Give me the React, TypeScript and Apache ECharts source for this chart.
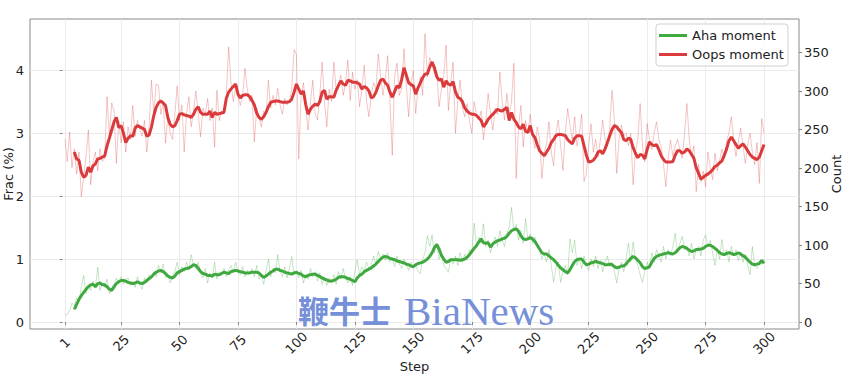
import React, { useEffect, useRef } from "react";
import * as echarts from "echarts";

// Step ticks and axis ticks
const stepTicks = [1, 25, 50, 75, 100, 125, 150, 175, 200, 225, 250, 275, 300];
const fracTicks = [0, 1, 2, 3, 4];
const countTicks = [0, 50, 100, 150, 200, 250, 300, 350];

// Raw per-step values (steps 1..300), Frac (%)
const oopsRaw = [
  2.90, 2.55, 3.02, 2.45, 2.75, 2.35, 2.70, 1.99, 2.30, 2.62,
  3.05, 2.18, 2.55, 2.70, 2.40, 2.75, 2.55, 2.60, 3.58, 2.95,
  3.48, 3.35, 2.52, 3.20, 2.85, 3.18, 2.70, 3.10, 2.90, 3.44,
  2.95, 3.20, 3.05, 2.95, 3.20, 2.70, 3.10, 3.84, 3.30, 3.78,
  3.76, 3.30, 3.50, 2.84, 3.25, 3.00, 2.90, 3.30, 3.75, 3.20,
  3.45, 2.70, 3.30, 3.58, 3.10, 3.35, 3.67, 3.30, 2.94, 3.40,
  3.30, 3.55, 3.20, 3.40, 2.78, 3.68, 3.20, 3.35, 3.30, 3.60,
  4.37, 3.80, 3.50, 3.75, 3.60, 3.44, 3.60, 4.03, 3.70, 3.50,
  3.60, 2.86, 3.40, 3.25, 3.10, 3.35, 3.30, 3.84, 3.40, 3.60,
  3.45, 3.71, 3.45, 3.30, 3.55, 3.45, 3.50, 3.70, 4.33, 4.25,
  2.59, 3.60, 3.80, 3.40, 3.05, 3.50, 3.84, 3.30, 3.21, 3.60,
  4.13, 3.50, 3.10, 3.70, 3.50, 4.13, 3.68, 3.75, 3.92, 3.60,
  3.80, 4.16, 3.52, 3.97, 3.70, 3.85, 3.42, 3.70, 4.08, 3.50,
  3.26, 3.60, 3.80, 3.70, 4.26, 3.90, 3.60, 3.85, 4.23, 3.50,
  2.65, 3.90, 4.11, 3.60, 3.70, 4.34, 3.75, 3.26, 3.80, 3.99,
  3.31, 3.70, 3.90, 3.60, 4.58, 3.89, 4.20, 4.10, 3.95, 3.99,
  3.42, 3.70, 3.90, 4.40, 3.36, 3.80, 4.13, 3.00, 3.50, 3.84,
  3.40, 3.26, 3.47, 3.20, 3.00, 3.50, 3.30, 3.21, 3.35, 2.89,
  3.20, 3.63, 3.30, 3.05, 3.40, 3.30, 3.97, 3.50, 3.21, 3.63,
  3.30, 3.50, 4.11, 2.28, 3.10, 3.44, 2.78, 3.20, 3.00, 3.30,
  2.95, 2.76, 3.10, 2.90, 2.28, 2.70, 2.83, 3.18, 2.70, 2.48,
  3.00, 3.21, 2.80, 2.41, 3.00, 3.39, 3.12, 2.90, 3.26, 2.80,
  3.00, 3.30, 2.23, 2.36, 2.80, 3.15, 2.70, 2.90, 2.62, 2.90,
  3.21, 2.90, 2.79, 3.10, 3.68, 3.20, 2.36, 2.90, 3.13, 2.95,
  3.00, 2.80, 3.00, 2.18, 2.70, 2.90, 3.47, 2.80, 2.54, 3.15,
  2.90, 2.74, 3.00, 3.18, 2.90, 2.79, 2.50, 2.15, 2.60, 2.89,
  2.63, 2.80, 2.90, 2.74, 2.60, 3.00, 3.47, 2.90, 2.63, 2.80,
  2.07, 2.50, 2.23, 2.40, 2.15, 2.70, 2.45, 2.26, 2.68, 2.40,
  2.57, 2.75, 2.60, 2.89, 3.00, 3.26, 2.90, 2.63, 2.85, 3.08,
  2.80, 2.52, 2.80, 3.00, 2.70, 2.50, 2.85, 2.20, 3.23, 3.00,
];

const ahaRaw = [
  0.11, 0.12, 0.18, 0.30, 0.26, 0.38, 0.33, 0.55, 0.74, 0.45,
  0.58, 0.50, 0.65, 0.55, 0.87, 0.50, 0.62, 0.55, 0.68, 0.45,
  0.55, 0.60, 0.70, 0.62, 0.72, 0.60, 0.68, 0.70, 0.58, 0.65,
  0.55, 0.72, 0.60, 0.52, 0.70, 0.62, 0.75, 0.68, 0.80, 0.72,
  0.90, 0.78, 0.92, 0.70, 0.75, 0.62, 0.72, 0.80, 0.95, 0.75,
  0.88, 0.80, 0.95, 0.82, 1.07, 0.90, 0.85, 0.95, 0.78, 0.70,
  0.85, 0.62, 0.78, 0.70, 0.95, 0.68, 0.80, 0.75, 0.85, 0.72,
  0.82, 0.90, 0.78, 0.95, 0.80, 0.75, 0.88, 0.72, 0.82, 0.78,
  0.85, 0.72, 0.90, 0.68, 0.75, 0.60, 0.80, 1.00, 0.72, 0.85,
  0.78, 1.07, 0.80, 0.72, 0.88, 0.70, 0.85, 1.04, 0.75, 0.80,
  0.70, 0.82, 0.62, 0.75, 0.68, 0.85, 0.72, 0.80, 0.65, 0.78,
  0.60, 0.72, 0.58, 0.70, 0.62, 0.75, 0.60, 0.80, 0.68, 0.85,
  0.70, 0.62, 0.72, 0.58, 0.80, 0.99, 0.75, 0.88, 0.80, 0.95,
  0.85, 0.90, 1.05, 0.92, 1.12, 1.00, 1.08, 0.98, 1.10, 0.95,
  1.00, 0.88, 1.05, 0.92, 0.85, 1.00, 0.90, 0.82, 0.95, 0.85,
  0.92, 0.80, 0.77, 1.00, 1.10, 1.37, 1.20, 1.38, 1.10, 1.25,
  1.00, 1.10, 0.90, 0.85, 0.79, 1.00, 0.92, 1.05, 0.90, 1.10,
  0.95, 1.08, 0.98, 1.15, 1.10, 1.57, 1.20, 1.35, 1.25, 1.56,
  1.20, 1.30, 1.10, 1.25, 1.35, 1.20, 1.45, 1.30, 1.20, 1.40,
  1.50, 1.82, 1.45, 1.55, 1.30, 1.45, 1.25, 1.64, 1.30, 1.40,
  1.25, 1.35, 1.20, 1.15, 1.00, 1.10, 0.95, 1.15, 0.90, 0.63,
  0.85, 0.95, 0.63, 0.80, 0.90, 0.75, 1.32, 1.10, 1.30, 0.90,
  1.00, 0.85, 1.05, 0.90, 0.82, 1.00, 0.88, 1.05, 0.85, 0.98,
  0.80, 0.95, 1.05, 0.88, 0.95, 0.80, 0.62, 0.85, 0.95, 0.80,
  1.00, 1.25, 0.95, 1.27, 1.00, 0.90, 0.75, 0.63, 0.80, 0.95,
  0.85, 1.10, 0.95, 1.15, 1.05, 0.95, 1.20, 1.00, 1.15, 1.05,
  1.20, 1.41, 1.10, 1.25, 1.36, 1.15, 1.20, 1.05, 1.25, 1.00,
  1.15, 1.20, 1.05, 1.30, 1.38, 1.20, 1.30, 1.10, 0.90, 1.15,
  1.00, 1.31, 1.05, 1.15, 0.95, 1.20, 1.05, 1.15, 0.98, 1.10,
  0.95, 1.08, 0.90, 0.75, 1.20, 0.90, 0.85, 0.95, 0.92, 1.00,
];

// Smoothed values, steps 5..300
const smoothStart = 5;
const oopsSmooth = [
  2.70, 2.59, 2.57, 2.38, 2.30, 2.33, 2.46, 2.38, 2.48, 2.51,
  2.59, 2.60, 2.62, 2.64, 2.80, 2.92, 3.05, 3.18, 3.25, 3.09,
  3.12, 3.00, 2.85, 2.92, 2.96, 2.95, 3.08, 3.12, 3.10, 3.08,
  3.06, 2.95, 2.97, 3.10, 3.28, 3.41, 3.48, 3.51, 3.48, 3.44,
  3.25, 3.14, 3.10, 3.12, 3.20, 3.30, 3.31, 3.29, 3.28, 3.27,
  3.25, 3.30, 3.38, 3.42, 3.33, 3.30, 3.30, 3.30, 3.35, 3.25,
  3.33, 3.30, 3.31, 3.32, 3.33, 3.55, 3.65, 3.70, 3.74, 3.78,
  3.62, 3.56, 3.60, 3.61, 3.61, 3.58, 3.52, 3.45, 3.32, 3.25,
  3.22, 3.26, 3.33, 3.42, 3.49, 3.50, 3.51, 3.51, 3.50, 3.49,
  3.49, 3.49, 3.50, 3.54, 3.65, 3.78, 3.70, 3.62, 3.67, 3.45,
  3.30, 3.38, 3.43, 3.46, 3.44, 3.50, 3.65, 3.68, 3.54, 3.58,
  3.58, 3.57, 3.68, 3.76, 3.83, 3.78, 3.76, 3.84, 3.83, 3.81,
  3.81, 3.80, 3.78, 3.70, 3.74, 3.72, 3.67, 3.56, 3.58, 3.65,
  3.75, 3.84, 3.86, 3.80, 3.76, 3.65, 3.57, 3.66, 3.75, 3.72,
  3.85, 4.04, 3.92, 3.80, 3.77, 3.75, 3.62, 3.72, 3.80, 3.88,
  3.94, 3.94, 4.05, 4.13, 4.04, 3.90, 3.84, 3.86, 3.73, 3.83,
  3.78, 3.76, 3.82, 3.66, 3.57, 3.55, 3.50, 3.40, 3.35, 3.32,
  3.30, 3.30, 3.28, 3.24, 3.20, 3.10, 3.15, 3.22, 3.26, 3.30,
  3.34, 3.38, 3.36, 3.35, 3.38, 3.41, 3.20, 3.33, 3.22, 3.17,
  3.10, 3.07, 3.14, 3.03, 3.01, 3.12, 2.98, 2.93, 2.82, 2.72,
  2.68, 2.64, 2.70, 2.76, 2.85, 2.90, 2.96, 2.98, 2.98, 2.97,
  2.96, 2.90, 2.86, 2.83, 2.92, 2.96, 2.96, 2.95, 2.80, 2.65,
  2.54, 2.55, 2.57, 2.62, 2.70, 2.72, 2.67, 2.75, 2.85, 2.96,
  3.06, 3.12, 3.10, 3.05, 3.01, 2.90, 2.88, 2.92, 2.90, 2.77,
  2.68, 2.61, 2.66, 2.65, 2.59, 2.74, 2.86, 2.82, 2.80, 2.82,
  2.74, 2.64, 2.58, 2.54, 2.54, 2.54, 2.55, 2.65, 2.72, 2.72,
  2.68, 2.70, 2.75, 2.72, 2.66, 2.60, 2.45, 2.36, 2.27, 2.30,
  2.33, 2.35, 2.38, 2.42, 2.47, 2.49, 2.53, 2.56, 2.65, 2.75,
  2.88, 2.94, 2.88, 2.82, 2.76, 2.80, 2.83, 2.78, 2.72, 2.66,
  2.62, 2.60, 2.58, 2.62, 2.72, 2.82,
];

const ahaSmooth = [
  0.20, 0.28, 0.36, 0.42, 0.47, 0.52, 0.56, 0.59, 0.60, 0.56,
  0.61, 0.62, 0.59, 0.59, 0.56, 0.52, 0.50, 0.56, 0.61, 0.64,
  0.66, 0.66, 0.65, 0.63, 0.62, 0.61, 0.62, 0.64, 0.62, 0.61,
  0.63, 0.66, 0.69, 0.72, 0.76, 0.79, 0.81, 0.82, 0.80, 0.77,
  0.73, 0.71, 0.70, 0.73, 0.78, 0.80, 0.82, 0.84, 0.85, 0.86,
  0.88, 0.91, 0.90, 0.85, 0.80, 0.77, 0.76, 0.74, 0.74, 0.73,
  0.76, 0.75, 0.75, 0.77, 0.79, 0.78, 0.77, 0.80, 0.81, 0.82,
  0.81, 0.80, 0.79, 0.78, 0.78, 0.78, 0.79, 0.79, 0.79, 0.78,
  0.74, 0.71, 0.73, 0.76, 0.79, 0.81, 0.84, 0.84, 0.82, 0.81,
  0.79, 0.78, 0.77, 0.76, 0.78, 0.79, 0.77, 0.76, 0.73, 0.72,
  0.74, 0.75, 0.76, 0.76, 0.74, 0.72, 0.70, 0.68, 0.67, 0.65,
  0.65, 0.66, 0.68, 0.71, 0.72, 0.72, 0.71, 0.69, 0.68, 0.66,
  0.64, 0.70, 0.74, 0.76, 0.80, 0.82, 0.84, 0.86, 0.89, 0.92,
  0.96, 1.00, 1.03, 1.04, 1.03, 1.01, 1.00, 0.99, 0.97, 0.96,
  0.95, 0.94, 0.92, 0.91, 0.89, 0.88, 0.91, 0.93, 0.94, 0.95,
  0.97, 1.00, 1.04, 1.10, 1.18, 1.23, 1.16, 1.06, 1.00, 0.95,
  0.96, 0.99, 0.99, 0.99, 0.99, 0.98, 0.99, 1.00, 1.03, 1.07,
  1.12, 1.17, 1.21, 1.27, 1.32, 1.26, 1.25, 1.26, 1.19, 1.24,
  1.27, 1.29, 1.30, 1.32, 1.33, 1.36, 1.41, 1.45, 1.47, 1.48,
  1.44, 1.37, 1.32, 1.31, 1.32, 1.34, 1.32, 1.28, 1.22, 1.16,
  1.10, 1.08, 1.08, 1.05, 1.02, 0.99, 0.95, 0.90, 0.86, 0.83,
  0.80, 0.78, 0.83, 0.90, 0.96, 0.99, 1.00, 1.00, 0.95, 0.91,
  0.92, 0.94, 0.95, 0.96, 0.95, 0.94, 0.93, 0.91, 0.91, 0.92,
  0.91, 0.88, 0.86, 0.87, 0.89, 0.89, 0.92, 0.97, 1.01, 1.04,
  1.02, 0.98, 0.94, 0.88, 0.85, 0.86, 0.88, 0.95, 1.01, 1.04,
  1.06, 1.07, 1.08, 1.09, 1.10, 1.09, 1.08, 1.10, 1.14, 1.18,
  1.20, 1.19, 1.17, 1.14, 1.12, 1.13, 1.15, 1.15, 1.16, 1.17,
  1.20, 1.22, 1.22, 1.20, 1.17, 1.14, 1.10, 1.08, 1.07, 1.09,
  1.10, 1.09, 1.07, 1.08, 1.10, 1.08, 1.05, 1.03, 0.99, 0.95,
  0.92, 0.91, 0.92, 0.93, 0.98, 0.93,
];

const RED = "#d62728";
const GREEN = "#2ca02c";
const FONT = "DejaVu Sans";

export default function App() {
  const ref = useRef<HTMLDivElement>(null);

  useEffect(() => {
    document.body.style.margin = "0";
    if (!ref.current) return;
    const chart = echarts.init(ref.current, undefined, { renderer: "svg" });

    const rawPairs = (arr: number[]) => arr.map((v, i) => [i + 1, v]);
    const smoothPairs = (arr: number[]) => arr.map((v, i) => [smoothStart + i, v]);

    const fracMin = -0.111;
    const fracMax = 4.813;
    const ratio = 81.8;

    const option: any = {
      animation: false,
      textStyle: { fontFamily: FONT },
      grid: {
        left: 30,
        right: 52,
        top: 19,
        bottom: 61,
        containLabel: false,
        outerBoundsMode: "none",
        show: true,
        borderColor: "#888",
        borderWidth: 1,
      },
      legend: {
        data: ["Aha moment", "Oops moment"],
        orient: "vertical",
        left: 656,
        top: 24,
        icon: "rect",
        itemWidth: 28,
        itemHeight: 3,
        itemGap: 4,
        itemTextGap: 9,
        padding: [4, 4, 4, 3],
        backgroundColor: "rgba(255,255,255,0.85)",
        borderColor: "#d0d0d0",
        borderWidth: 1,
        borderRadius: 3,
        textStyle: { fontSize: 13, color: "#222", fontFamily: FONT, lineHeight: 15 },
      },
      xAxis: {
        type: "value",
        min: -13.95,
        max: 314.95,
        name: "Step",
        nameLocation: "middle",
        nameGap: 31,
        nameMoveOverlap: false,
        nameTextStyle: { fontSize: 13, color: "#222", fontFamily: FONT },
        axisLine: { show: false },
        axisTick: { show: true, customValues: stepTicks, length: 3, lineStyle: { color: "#888" } },
        axisLabel: {
          customValues: stepTicks,
          rotate: 45,
          align: "center",
          verticalAlign: "middle",
          margin: 14,
          fontSize: 13,
          color: "#222",
          fontFamily: FONT,
        },
        splitLine: { show: true, lineStyle: { color: "#ebebeb", width: 1 } },
      },
      yAxis: [
        {
          type: "value",
          position: "left",
          min: fracMin,
          max: fracMax,
          name: "Frac (%)",
          nameLocation: "middle",
          nameGap: 15,
          nameMoveOverlap: false,
          nameTextStyle: { fontSize: 13, color: "#222", fontFamily: FONT },
          axisLine: { show: false },
          axisTick: { show: true, customValues: fracTicks, length: 3, lineStyle: { color: "#888" } },
          axisLabel: { customValues: fracTicks, margin: 6, fontSize: 13, color: "#222", fontFamily: FONT },
          splitLine: { show: true, lineStyle: { color: "#ebebeb", width: 1 } },
        },
        {
          type: "value",
          position: "right",
          min: fracMin * ratio,
          max: fracMax * ratio,
          name: "Count",
          nameLocation: "middle",
          nameGap: 31,
          nameMoveOverlap: false,
          nameTextStyle: { fontSize: 13, color: "#222", fontFamily: FONT },
          axisLine: { show: false },
          axisTick: { show: true, customValues: countTicks, length: 3, lineStyle: { color: "#888" } },
          axisLabel: { customValues: countTicks, margin: 5, fontSize: 13, color: "#222", fontFamily: FONT },
          splitLine: { show: false },
        },
      ],
      series: [
        {
          name: "Oops raw",
          type: "line",
          yAxisIndex: 0,
          data: rawPairs(oopsRaw),
          showSymbol: false,
          symbol: "none",
          silent: true,
          lineStyle: { color: RED, width: 0.9, opacity: 0.3 },
          itemStyle: { color: RED },
          z: 1,
        },
        {
          name: "Aha raw",
          type: "line",
          yAxisIndex: 0,
          data: rawPairs(ahaRaw),
          showSymbol: false,
          symbol: "none",
          silent: true,
          lineStyle: { color: GREEN, width: 0.9, opacity: 0.3 },
          itemStyle: { color: GREEN },
          z: 1,
        },
        {
          name: "Aha moment",
          type: "line",
          yAxisIndex: 0,
          data: smoothPairs(ahaSmooth),
          showSymbol: false,
          symbol: "none",
          lineStyle: { color: GREEN, width: 3, opacity: 0.9 },
          itemStyle: { color: GREEN, opacity: 0.9 },
          z: 3,
        },
        {
          name: "Oops moment",
          type: "line",
          yAxisIndex: 0,
          data: smoothPairs(oopsSmooth),
          showSymbol: false,
          symbol: "none",
          lineStyle: { color: RED, width: 3, opacity: 0.9 },
          itemStyle: { color: RED, opacity: 0.9 },
          z: 3,
        },
      ],
      graphic: [
        {
          type: "text",
          left: 298,
          top: 294,
          z: 100,
          style: {
            text: "鞭牛士",
            fontSize: 31,
            fontWeight: "bold",
            fontFamily: "Noto Sans CJK SC",
            fill: "#7590d8",
          },
        },
        {
          type: "text",
          left: 404,
          top: 290,
          z: 100,
          style: {
            text: "BiaNews",
            fontSize: 41,
            fontFamily: "Liberation Serif",
            fill: "#7590d8",
          },
        },
      ],
    };

    chart.setOption(option);
    return () => chart.dispose();
  }, []);

  return <div ref={ref} style={{ width: 851, height: 390 }} />;
}
